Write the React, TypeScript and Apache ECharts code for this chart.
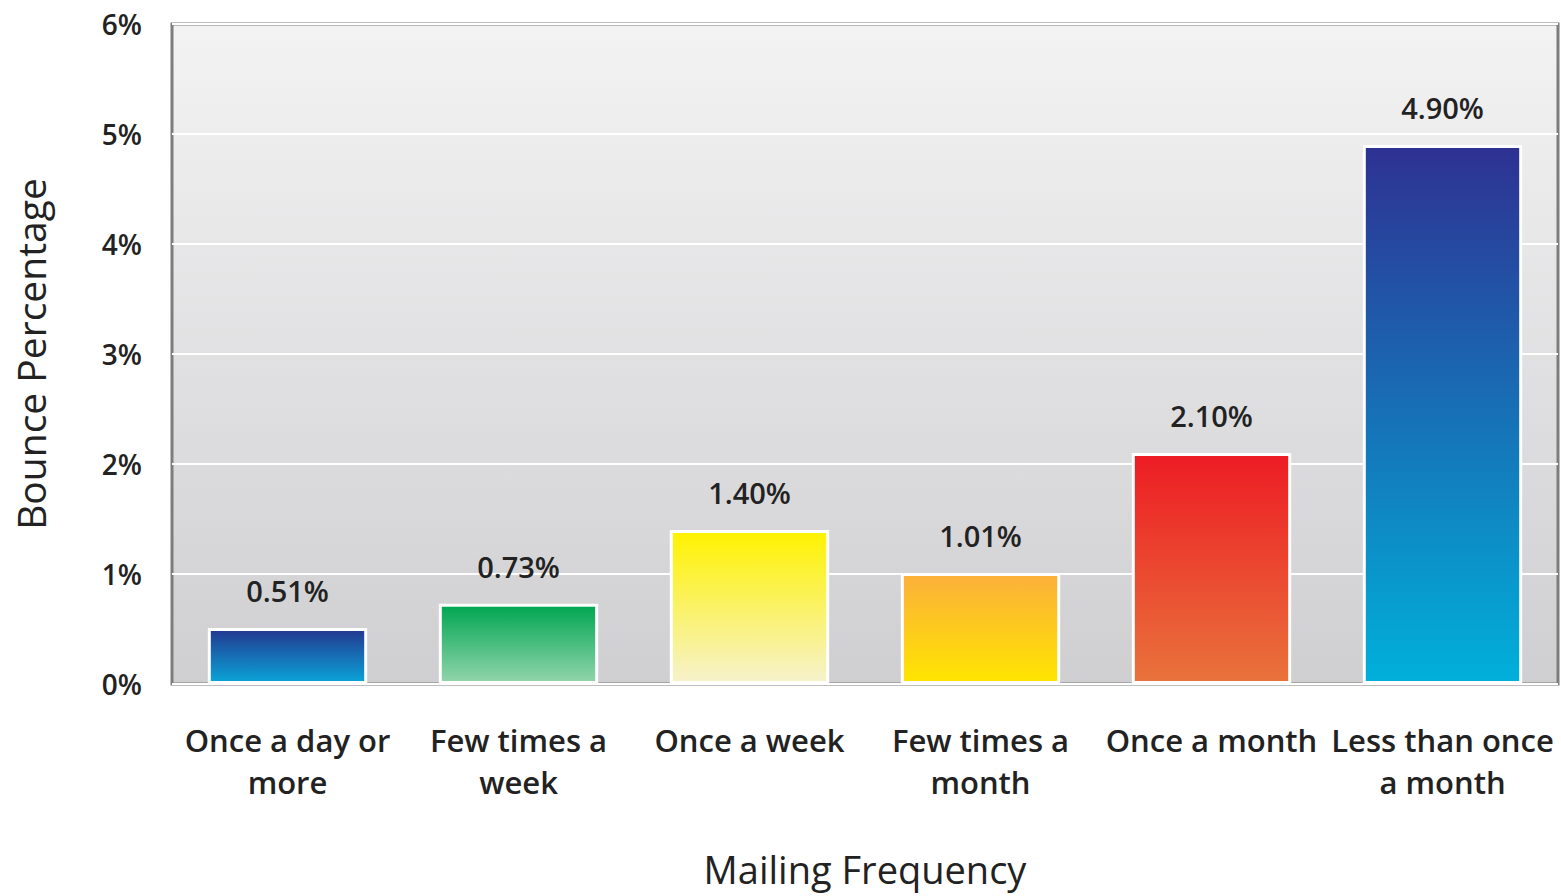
import React, { useEffect, useRef } from "react";
import * as echarts from "echarts";

const categories = [
  "Once a day or\nmore",
  "Few times a\nweek",
  "Once a week",
  "Few times a\nmonth",
  "Once a month",
  "Less than once\na month",
];
const values = [0.51, 0.73, 1.4, 1.01, 2.1, 4.9];
const valueLabels = ["0.51%", "0.73%", "1.40%", "1.01%", "2.10%", "4.90%"];
const gradientTops = ["#23388f", "#00a651", "#fff200", "#fbb03b", "#ed1c24", "#2e3192"];
const gradientBottoms = ["#0aa4d8", "#92d5ac", "#f6f2cc", "#ffe500", "#e9733c", "#00b0da"];
const yTicks = [0, 1, 2, 3, 4, 5, 6];

export default function App() {
  const ref = useRef<HTMLDivElement>(null);
  useEffect(() => {
    if (!ref.current) return;
    const chart = echarts.init(ref.current, null, { renderer: "svg" });
    const font = "'Open Sans', 'DejaVu Sans', sans-serif";
    chart.setOption({
      animation: false,
      backgroundColor: "#ffffff",
      grid: {
        left: 172,
        right: 3,
        top: 24,
        bottom: 212,
        outerBoundsMode: "none",
        containLabel: false,
        show: true,
        borderColor: "#7d7d7d",
        borderWidth: 3,
        backgroundColor: new echarts.graphic.LinearGradient(0, 0, 0, 1, [
          { offset: 0, color: "#f3f3f4" },
          { offset: 1, color: "#cfcfd1" },
        ]),
      },
      xAxis: {
        type: "category",
        data: categories,
        name: "Mailing Frequency",
        nameLocation: "middle",
        nameGap: 166,
        nameTextStyle: { fontSize: 38, color: "#222", fontFamily: font },
        axisLine: { show: false },
        axisTick: { show: false },
        axisLabel: {
          fontSize: 31,
          fontWeight: 600,
          color: "#222",
          fontFamily: font,
          lineHeight: 42,
          margin: 35,
          interval: 0,
        },
      },
      yAxis: {
        type: "value",
        min: 0,
        max: 6,
        interval: 1,
        name: "Bounce Percentage",
        nameLocation: "middle",
        nameGap: 122,
        nameTextStyle: { fontSize: 39, color: "#222", fontFamily: font },
        axisLine: { show: false },
        axisTick: { show: false },
        axisLabel: {
          formatter: (v: number) => (yTicks.includes(v) ? v + "%" : ""),
          fontSize: 28,
          fontWeight: 600,
          color: "#222",
          fontFamily: font,
          margin: 30,
        },
        splitLine: { show: true, lineStyle: { color: "#ffffff", width: 2 } },
      },
      series: [
        {
          type: "bar",
          barWidth: "69%",
          data: values.map((v, i) => ({
            value: v,
            itemStyle: {
              color: new echarts.graphic.LinearGradient(0, 0, 0, 1, [
                { offset: 0, color: gradientTops[i] },
                { offset: 1, color: gradientBottoms[i] },
              ]),
              borderColor: "#ffffff",
              borderWidth: 3,
            },
          })),
          label: {
            show: true,
            position: "top",
            distance: 23,
            formatter: (p: any) => valueLabels[p.dataIndex],
            fontSize: 29,
            fontWeight: 600,
            color: "#222",
            fontFamily: font,
          },
        },
      ],
    });
    return () => chart.dispose();
  }, []);
  return <div ref={ref} style={{ width: 1561, height: 896, position: "absolute", left: 0, top: 0 }} />;
}
